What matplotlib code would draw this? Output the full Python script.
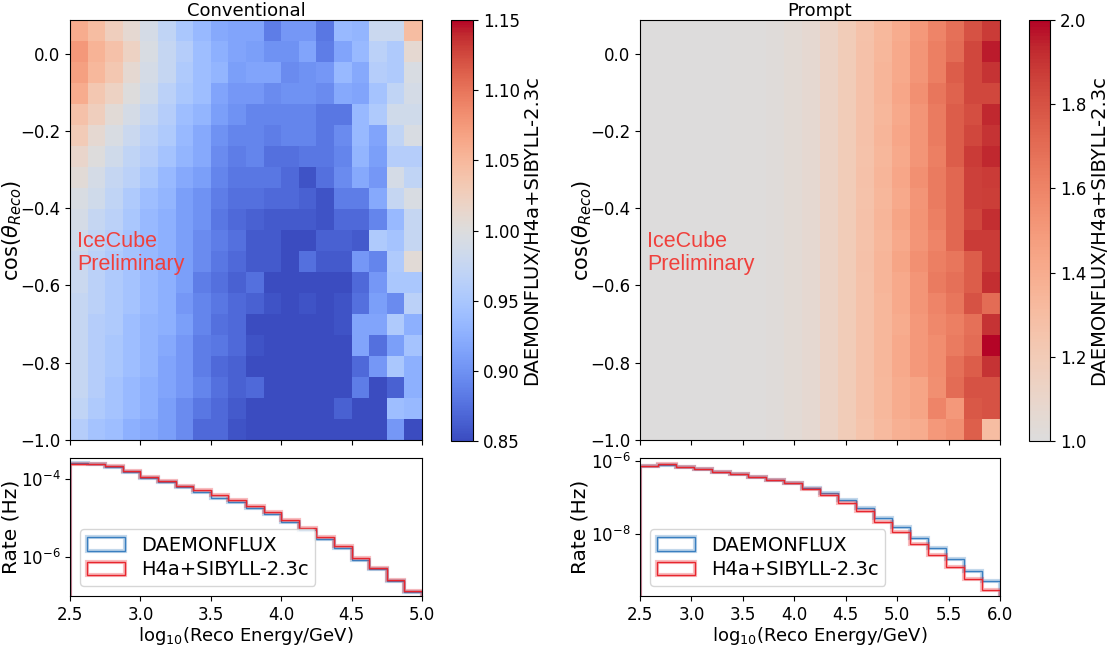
import numpy as np
import matplotlib.pyplot as plt
from matplotlib.colors import LinearSegmentedColormap
from matplotlib.legend_handler import HandlerTuple
from matplotlib.patches import Patch
from matplotlib.ticker import NullLocator

# binning
conv_edges = np.linspace(2.5, 5.0, 21)
prompt_edges = np.linspace(2.5, 6.0, 21)
cos_edges = np.linspace(-1.0, 0.0872, 21)

# ratio DAEMONFLUX / H4a+SIBYLL-2.3c, conventional (rows from top cos=0.087 down to cos=-1)
conv_ratio = [
    [1.060, 1.045, 1.025, 1.010, 0.990, 0.970, 0.950, 0.935, 0.920, 0.915, 0.915, 0.885, 0.905, 0.905, 0.880, 0.935, 0.930, 0.980, 0.980, 1.045],
    [1.075, 1.055, 1.040, 1.020, 0.995, 0.975, 0.960, 0.940, 0.925, 0.915, 0.910, 0.900, 0.900, 0.915, 0.885, 0.915, 0.935, 0.965, 0.955, 1.010],
    [1.070, 1.050, 1.035, 1.010, 0.990, 0.975, 0.955, 0.940, 0.930, 0.910, 0.915, 0.915, 0.895, 0.900, 0.905, 0.935, 0.920, 0.960, 0.955, 0.995],
    [1.060, 1.035, 1.020, 1.000, 0.985, 0.965, 0.950, 0.940, 0.915, 0.905, 0.905, 0.895, 0.900, 0.900, 0.895, 0.920, 0.915, 0.945, 0.970, 0.990],
    [1.040, 1.025, 1.005, 0.990, 0.975, 0.960, 0.940, 0.930, 0.910, 0.900, 0.890, 0.890, 0.890, 0.890, 0.880, 0.880, 0.935, 0.955, 0.985, 0.985],
    [1.030, 1.010, 0.995, 0.980, 0.965, 0.955, 0.935, 0.920, 0.900, 0.890, 0.890, 0.885, 0.890, 0.890, 0.880, 0.895, 0.935, 0.915, 0.970, 0.995],
    [1.015, 1.000, 0.985, 0.970, 0.960, 0.945, 0.930, 0.920, 0.895, 0.885, 0.890, 0.875, 0.875, 0.880, 0.880, 0.890, 0.930, 0.910, 0.960, 0.960],
    [1.005, 0.990, 0.975, 0.965, 0.950, 0.935, 0.920, 0.910, 0.890, 0.880, 0.880, 0.880, 0.870, 0.855, 0.875, 0.895, 0.920, 0.905, 0.990, 0.970],
    [0.995, 0.985, 0.970, 0.955, 0.940, 0.930, 0.910, 0.900, 0.885, 0.875, 0.875, 0.870, 0.870, 0.865, 0.855, 0.885, 0.885, 0.920, 0.975, 0.995],
    [0.990, 0.975, 0.965, 0.950, 0.935, 0.925, 0.910, 0.900, 0.880, 0.870, 0.865, 0.860, 0.860, 0.860, 0.855, 0.870, 0.870, 0.890, 0.935, 0.975],
    [0.985, 0.970, 0.960, 0.945, 0.935, 0.925, 0.910, 0.895, 0.885, 0.875, 0.860, 0.860, 0.850, 0.850, 0.865, 0.865, 0.860, 0.955, 0.945, 0.975],
    [0.980, 0.965, 0.955, 0.945, 0.935, 0.925, 0.910, 0.895, 0.880, 0.870, 0.860, 0.860, 0.850, 0.875, 0.860, 0.860, 0.905, 0.890, 0.955, 1.005],
    [0.980, 0.965, 0.955, 0.945, 0.935, 0.925, 0.910, 0.885, 0.875, 0.865, 0.875, 0.850, 0.850, 0.850, 0.850, 0.850, 0.870, 0.905, 0.950, 0.950],
    [0.975, 0.965, 0.955, 0.945, 0.935, 0.925, 0.905, 0.890, 0.880, 0.870, 0.865, 0.855, 0.850, 0.855, 0.850, 0.855, 0.875, 0.910, 0.895, 0.965],
    [0.975, 0.960, 0.955, 0.940, 0.930, 0.925, 0.910, 0.890, 0.875, 0.870, 0.850, 0.850, 0.850, 0.850, 0.850, 0.855, 0.915, 0.915, 0.955, 0.925],
    [0.975, 0.960, 0.950, 0.940, 0.930, 0.920, 0.905, 0.885, 0.880, 0.870, 0.855, 0.850, 0.850, 0.850, 0.850, 0.850, 0.915, 0.875, 0.910, 0.945],
    [0.975, 0.960, 0.950, 0.940, 0.930, 0.915, 0.905, 0.885, 0.870, 0.865, 0.850, 0.850, 0.850, 0.850, 0.850, 0.850, 0.870, 0.905, 0.950, 0.925],
    [0.975, 0.960, 0.945, 0.935, 0.925, 0.915, 0.905, 0.890, 0.875, 0.865, 0.870, 0.850, 0.850, 0.850, 0.850, 0.850, 0.885, 0.850, 0.865, 0.925],
    [0.970, 0.955, 0.945, 0.935, 0.925, 0.910, 0.895, 0.880, 0.870, 0.860, 0.850, 0.850, 0.850, 0.850, 0.850, 0.865, 0.850, 0.850, 0.940, 0.935],
    [0.960, 0.945, 0.940, 0.925, 0.920, 0.910, 0.895, 0.870, 0.870, 0.855, 0.850, 0.850, 0.850, 0.850, 0.850, 0.850, 0.850, 0.850, 0.905, 0.850],
]

# ratio, prompt (same row order)
prompt_ratio = [
    [1.00, 1.00, 1.00, 1.00, 1.00, 1.01, 1.01, 1.02, 1.04, 1.07, 1.12, 1.19, 1.26, 1.33, 1.40, 1.50, 1.60, 1.68, 1.80, 1.88],
    [1.00, 1.00, 1.00, 1.00, 1.00, 1.01, 1.01, 1.02, 1.04, 1.07, 1.12, 1.19, 1.27, 1.34, 1.42, 1.52, 1.62, 1.70, 1.84, 1.96],
    [1.00, 1.00, 1.00, 1.00, 1.00, 1.01, 1.01, 1.02, 1.04, 1.07, 1.12, 1.19, 1.27, 1.35, 1.42, 1.52, 1.62, 1.76, 1.84, 1.90],
    [1.00, 1.00, 1.00, 1.00, 1.00, 1.01, 1.01, 1.02, 1.04, 1.07, 1.12, 1.19, 1.27, 1.35, 1.43, 1.54, 1.66, 1.74, 1.84, 1.84],
    [1.00, 1.00, 1.00, 1.00, 1.00, 1.01, 1.01, 1.02, 1.04, 1.07, 1.12, 1.19, 1.27, 1.34, 1.42, 1.52, 1.64, 1.76, 1.82, 1.93],
    [1.00, 1.00, 1.00, 1.00, 1.00, 1.01, 1.01, 1.02, 1.04, 1.07, 1.12, 1.19, 1.27, 1.35, 1.43, 1.52, 1.64, 1.76, 1.84, 1.90],
    [1.00, 1.00, 1.00, 1.00, 1.00, 1.01, 1.01, 1.02, 1.04, 1.07, 1.12, 1.19, 1.26, 1.34, 1.42, 1.52, 1.62, 1.76, 1.88, 1.93],
    [1.00, 1.00, 1.00, 1.00, 1.00, 1.01, 1.01, 1.02, 1.04, 1.07, 1.12, 1.19, 1.27, 1.35, 1.43, 1.54, 1.64, 1.72, 1.86, 1.88],
    [1.00, 1.00, 1.00, 1.00, 1.00, 1.01, 1.01, 1.02, 1.04, 1.07, 1.12, 1.19, 1.26, 1.34, 1.42, 1.52, 1.64, 1.72, 1.86, 1.87],
    [1.00, 1.00, 1.00, 1.00, 1.00, 1.01, 1.01, 1.02, 1.04, 1.07, 1.12, 1.19, 1.27, 1.35, 1.44, 1.53, 1.62, 1.72, 1.84, 1.92],
    [1.00, 1.00, 1.00, 1.00, 1.00, 1.01, 1.01, 1.02, 1.04, 1.07, 1.12, 1.19, 1.26, 1.34, 1.42, 1.52, 1.60, 1.72, 1.88, 1.88],
    [1.00, 1.00, 1.00, 1.00, 1.00, 1.01, 1.01, 1.02, 1.04, 1.07, 1.12, 1.19, 1.27, 1.35, 1.44, 1.54, 1.62, 1.66, 1.76, 1.88],
    [1.00, 1.00, 1.00, 1.00, 1.00, 1.01, 1.01, 1.02, 1.04, 1.07, 1.12, 1.19, 1.26, 1.35, 1.42, 1.52, 1.64, 1.68, 1.76, 1.92],
    [1.00, 1.00, 1.00, 1.00, 1.00, 1.01, 1.01, 1.02, 1.04, 1.07, 1.12, 1.19, 1.26, 1.34, 1.42, 1.52, 1.60, 1.66, 1.80, 1.70],
    [1.00, 1.00, 1.00, 1.00, 1.00, 1.01, 1.01, 1.02, 1.04, 1.07, 1.12, 1.19, 1.26, 1.34, 1.40, 1.50, 1.58, 1.62, 1.68, 1.90],
    [1.00, 1.00, 1.00, 1.00, 1.00, 1.01, 1.01, 1.02, 1.04, 1.07, 1.12, 1.19, 1.26, 1.34, 1.42, 1.50, 1.56, 1.64, 1.70, 2.00],
    [1.00, 1.00, 1.00, 1.00, 1.00, 1.01, 1.01, 1.02, 1.04, 1.07, 1.12, 1.19, 1.26, 1.34, 1.42, 1.50, 1.56, 1.68, 1.76, 1.90],
    [1.00, 1.00, 1.00, 1.00, 1.00, 1.01, 1.01, 1.02, 1.04, 1.07, 1.12, 1.19, 1.26, 1.33, 1.40, 1.44, 1.55, 1.70, 1.80, 1.80],
    [1.00, 1.00, 1.00, 1.00, 1.00, 1.01, 1.01, 1.02, 1.04, 1.07, 1.12, 1.19, 1.26, 1.33, 1.40, 1.44, 1.60, 1.50, 1.78, 1.80],
    [1.00, 1.00, 1.00, 1.00, 1.00, 1.01, 1.01, 1.02, 1.04, 1.07, 1.12, 1.19, 1.25, 1.32, 1.38, 1.40, 1.50, 1.55, 1.75, 1.30],
]

# rates in Hz per energy bin
conv_daemon = [2.45e-4, 2.38e-4, 2.0e-4, 1.48e-4, 1.03e-4, 8.0e-5, 6.0e-5, 4.6e-5, 3.3e-5, 2.5e-5,
               1.75e-5, 1.25e-5, 7.7e-6, 5.0e-6, 2.9e-6, 1.68e-6, 8.6e-7, 4.9e-7, 2.45e-7, 1.3e-7]
conv_h4a = [2.42e-4, 2.42e-4, 2.10e-4, 1.54e-4, 1.10e-4, 8.7e-5, 6.5e-5, 5.2e-5, 3.75e-5, 2.8e-5,
            1.97e-5, 1.41e-5, 8.6e-6, 5.5e-6, 3.24e-6, 1.87e-6, 9.6e-7, 5.35e-7, 2.64e-7, 1.36e-7]
prompt_daemon = [7.3e-7, 8.0e-7, 7.0e-7, 5.9e-7, 5.0e-7, 4.3e-7, 3.7e-7, 3.1e-7, 2.5e-7, 1.84e-7,
                 1.29e-7, 8.3e-8, 5.0e-8, 2.79e-8, 1.52e-8, 7.6e-9, 4.06e-9, 2.04e-9, 9.4e-10, 5.2e-10]
prompt_h4a = [7.3e-7, 8.1e-7, 7.0e-7, 5.9e-7, 5.0e-7, 4.3e-7, 3.66e-7, 3.1e-7, 2.41e-7, 1.72e-7,
              1.16e-7, 6.85e-8, 4.24e-8, 2.17e-8, 1.11e-8, 5.3e-9, 2.67e-9, 1.26e-9, 5.6e-10, 2.85e-10]

W, H = 1112, 646


def box(l, t, r, b):
    return [l / W, 1 - b / H, (r - l) / W, (b - t) / H]


fig = plt.figure(figsize=(W / 100, H / 100), dpi=100)

warm = LinearSegmentedColormap.from_list('warm', plt.cm.coolwarm(np.linspace(0.5, 1, 256)))

panels = [
    dict(title='Conventional', edges=conv_edges, ratio=conv_ratio, cmap='coolwarm', vmin=0.85, vmax=1.15,
         daemon=conv_daemon, h4a=conv_h4a, ylim=(1.01e-7, 3.37e-4), yticks=[1e-4, 1e-6],
         xticks=np.arange(2.5, 5.01, 0.5), cticks=np.arange(0.85, 1.151, 0.05), cfmt='%.2f',
         x0=70, x1=422, c0=451, c1=473),
    dict(title='Prompt', edges=prompt_edges, ratio=prompt_ratio, cmap=warm, vmin=1.0, vmax=2.0,
         daemon=prompt_daemon, h4a=prompt_h4a, ylim=(1.95e-10, 1.21e-6), yticks=[1e-6, 1e-8],
         xticks=np.arange(2.5, 6.01, 0.5), cticks=np.arange(1.0, 2.01, 0.2), cfmt='%.1f',
         x0=640, x1=1000, c0=1029, c1=1050),
]

for p in panels:
    wpx = p['x1'] - p['x0']
    ax = fig.add_axes(box(p['x0'], 20, p['x1'], 440))
    mesh = ax.pcolormesh(p['edges'], cos_edges, np.flipud(np.array(p['ratio'])),
                         cmap=p['cmap'], vmin=p['vmin'], vmax=p['vmax'])
    ax.set_title(p['title'], fontsize=13, pad=3)
    ax.set_ylabel(r'cos($\theta_{Reco}$)', fontsize=15)
    ax.yaxis.set_label_coords(-46 / wpx, 0.5)
    ax.set_yticks([0.0, -0.2, -0.4, -0.6, -0.8, -1.0])
    ax.set_xticks(p['xticks'])
    ax.tick_params(labelbottom=False, labelsize=12)
    ax.set_xlim(p['edges'][0], p['edges'][-1])
    ax.set_ylim(cos_edges[0], cos_edges[-1])
    ax.text(0.02, 0.445, 'IceCube\nPreliminary', transform=ax.transAxes, color='#f0403c',
            fontsize=15.5, family='Liberation Sans', va='center', ha='left', linespacing=1.1)

    cax = fig.add_axes(box(p['c0'], 20, p['c1'], 441))
    cb = fig.colorbar(mesh, cax=cax, ticks=p['cticks'], format=p['cfmt'])
    cb.ax.tick_params(labelsize=12)
    cb.set_label('DAEMONFLUX/H4a+SIBYLL-2.3c', fontsize=14, labelpad=2)

    hx = fig.add_axes(box(p['x0'], 458, p['x1'], 596))
    handles, labels = [], []
    for vals, col, lab in [(p['daemon'], '#3a7fc0', 'DAEMONFLUX'), (p['h4a'], '#e8262e', 'H4a+SIBYLL-2.3c')]:
        hx.stairs(vals, p['edges'], color=col, lw=3, alpha=0.3)
        hx.stairs(vals, p['edges'], color=col, lw=1)
        handles.append((Patch(facecolor='none', edgecolor=col, lw=3, alpha=0.3),
                        Patch(facecolor='none', edgecolor=col, lw=1)))
        labels.append(lab)
    hx.set_yscale('log')
    hx.set_ylim(*p['ylim'])
    hx.set_xlim(p['edges'][0], p['edges'][-1])
    hx.set_yticks(p['yticks'])
    hx.yaxis.set_minor_locator(NullLocator())
    hx.set_xticks(p['xticks'])
    hx.tick_params(labelsize=12)
    hx.set_xlabel(r'log$_{10}$(Reco Energy/GeV)', fontsize=13, labelpad=1)
    hx.set_ylabel('Rate (Hz)', fontsize=14.5)
    hx.yaxis.set_label_coords(-50 / wpx, 0.5)
    hx.legend(handles, labels, loc='lower left', fontsize=14, labelspacing=0.3, borderpad=0.35,
              handler_map={tuple: HandlerTuple(ndivide=1, pad=0)})

fig.savefig('out.png', dpi=100)
